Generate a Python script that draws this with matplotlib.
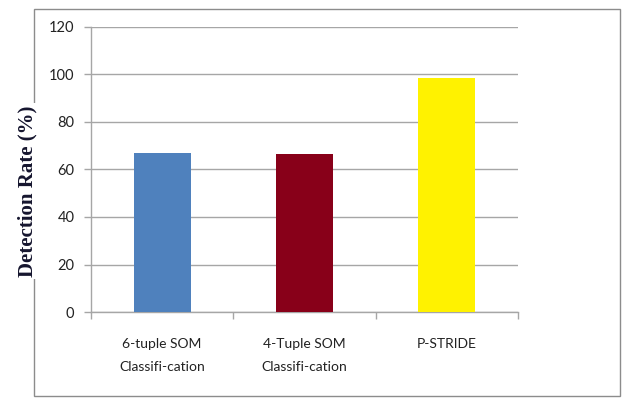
import matplotlib
matplotlib.use("Agg")
import matplotlib.pyplot as plt
from matplotlib.patches import Rectangle

categories = ["6-tuple SOM\nClassifi-cation", "4-Tuple SOM\nClassifi-cation", "P-STRIDE"]
detection_rate = [67.0, 66.4, 98.5]
bar_colors = ["#4F81BD", "#880019", "#FFF200"]
y_ticks = [0, 20, 40, 60, 80, 100, 120]

W, H, DPI = 625, 398, 100
fig = plt.figure(figsize=(W / DPI, H / DPI), dpi=DPI)
fig.patch.set_facecolor("white")

# outer frame around the chart
frame = Rectangle((34 / W, 1 - 396 / H), (620 - 34) / W, (396 - 9) / H,
                  transform=fig.transFigure, fill=False, edgecolor="#8c8c8c",
                  linewidth=1.0, zorder=-1)
fig.patches.append(frame)

ax = fig.add_axes([91 / W, 1 - 312 / H, (518 - 91) / W, (312 - 27) / H])

positions = [i + 0.5 for i in range(len(categories))]
ax.bar(positions, detection_rate, width=0.4, color=bar_colors, zorder=3)

ax.set_xlim(0, len(categories))
ax.set_ylim(0, 120)
ax.set_yticks(y_ticks)
ax.set_yticklabels([str(t) for t in y_ticks])
ax.set_xticks(positions)
ax.set_xticklabels(categories, linespacing=2.05)
ax.set_xticks(range(len(categories) + 1), minor=True)

ax.yaxis.grid(True, color="#a6a6a6", linewidth=1.0, zorder=0)
ax.set_axisbelow(True)

for s in ["top", "right"]:
    ax.spines[s].set_visible(False)
for s in ["left", "bottom"]:
    ax.spines[s].set_color("#a6a6a6")
    ax.spines[s].set_linewidth(1.0)

tick_font = "Lato"
ax.tick_params(axis="y", which="major", length=5, width=1, color="#a6a6a6",
               pad=7, labelsize=10.5, labelcolor="#222222")
ax.tick_params(axis="x", which="major", length=0, pad=19, labelsize=10,
               labelcolor="#222222")
ax.tick_params(axis="x", which="minor", length=5, width=1, color="#a6a6a6")
for lbl in ax.get_xticklabels() + ax.get_yticklabels():
    lbl.set_fontfamily(tick_font)
for lbl in ax.get_xticklabels():
    lbl.set_verticalalignment("top")

fig.text(27 / W, 1 - 191 / H, "Detection Rate (%)", rotation=90,
         ha="center", va="center", fontsize=15, fontweight="bold",
         family="Liberation Serif", color="#15152e",
         bbox=dict(facecolor="white", edgecolor="none", pad=2), zorder=5)

fig.savefig("out.png", dpi=DPI, facecolor="white")
